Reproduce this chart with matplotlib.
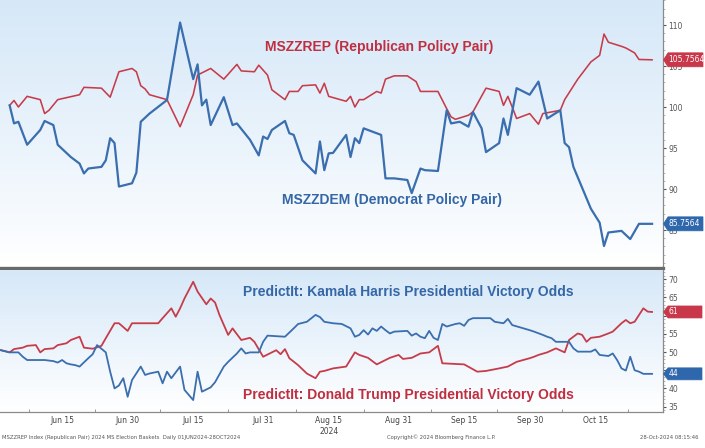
import matplotlib
matplotlib.use("Agg")
import matplotlib.pyplot as plt
import matplotlib.dates as mdates
import numpy as np
import pandas as pd
from matplotlib.patches import Polygon
from matplotlib.ticker import MultipleLocator, FixedLocator, FixedFormatter
from matplotlib.transforms import IdentityTransform, blended_transform_factory

# ---------------- data ----------------
rep_dates = ["06-03","06-04","06-05","06-07","06-10","06-11","06-12","06-14","06-19","06-20","06-24","06-26","06-28","07-01","07-02","07-03","07-04","07-05","07-09","07-12","07-15","07-16","07-19","07-22","07-25","07-26","07-29","07-30","08-01","08-02","08-05","08-06","08-08","08-09","08-12","08-13","08-14","08-15","08-19","08-20","08-21","08-22","08-23","08-26","08-27","08-28","08-30","09-02","09-04","09-05","09-09","09-11","09-12","09-13","09-16","09-17","09-20","09-23","09-24","09-25","09-26","09-27","09-30","10-02","10-03","10-07","10-08","10-11","10-14","10-16","10-17","10-18","10-21","10-22","10-23","10-24","10-25","10-28"]
rep_values = [100.2,100.8,100.0,101.3,100.9,99.2,99.6,100.9,101.5,102.4,102.3,101.2,104.3,104.7,104.3,102.6,102.2,101.5,100.9,97.6,101.5,103.9,104.7,103.4,105.2,104.4,104.3,105.1,103.9,102.1,100.9,101.9,101.9,102.6,102.7,101.7,102.9,101.3,100.7,101.3,100.0,100.9,100.9,101.9,101.7,103.4,103.8,103.8,103.1,101.9,101.9,99.8,98.8,98.5,99.0,99.4,102.3,101.9,100.2,101.3,100.0,98.6,99.2,97.9,99.2,99.6,100.9,103.4,105.5,106.3,108.9,107.9,107.4,107.2,106.9,106.6,105.8,105.7564]

dem_dates = ["06-03","06-04","06-05","06-07","06-10","06-11","06-13","06-14","06-17","06-19","06-20","06-21","06-24","06-25","06-26","06-27","06-28","07-01","07-02","07-03","07-05","07-09","07-12","07-15","07-16","07-17","07-18","07-19","07-22","07-24","07-25","07-28","07-30","07-31","08-01","08-02","08-05","08-06","08-07","08-09","08-12","08-13","08-14","08-15","08-16","08-19","08-20","08-21","08-22","08-23","08-27","08-28","08-30","09-02","09-03","09-05","09-06","09-09","09-11","09-12","09-14","09-16","09-17","09-19","09-20","09-23","09-24","09-25","09-27","09-30","10-02","10-04","10-07","10-08","10-09","10-10","10-14","10-16","10-17","10-18","10-21","10-23","10-25","10-28"]
dem_values = [100.2,98.0,98.2,95.4,97.2,98.3,97.8,95.4,93.9,93.1,91.9,92.5,92.7,93.5,96.2,95.6,90.3,90.7,92.0,98.2,99.2,100.85,110.3,103.4,105.2,100.2,100.9,97.8,101.2,97.8,98.0,96.0,94.1,96.4,96.1,97.2,98.3,96.8,96.6,93.5,91.9,95.8,92.3,94.35,94.4,96.6,93.9,96.2,95.6,97.4,96.6,91.3,91.3,91.1,89.5,92.5,92.3,92.2,99.6,98.0,98.2,97.6,99.4,97.4,94.5,95.6,98.6,96.6,102.3,101.5,103.1,98.6,99.6,95.6,95.1,92.7,87.6,85.9,83.05,84.7,84.9,83.9,85.7564,85.7564]

trump_dates = ["06-01","06-03","06-04","06-06","06-07","06-09","06-10","06-11","06-13","06-14","06-16","06-17","06-19","06-20","06-22","06-24","06-25","06-27","06-28","06-30","07-01","07-07","07-08","07-10","07-11","07-12","07-13","07-15","07-16","07-18","07-19","07-20","07-21","07-23","07-24","07-26","07-28","07-29","07-31","08-03","08-04","08-05","08-06","08-08","08-10","08-12","08-13","08-14","08-16","08-19","08-21","08-22","08-24","08-26","08-29","08-31","09-01","09-03","09-05","09-07","09-09","09-10","09-15","09-18","09-20","09-23","09-25","09-27","09-30","10-01","10-02","10-04","10-06","10-08","10-09","10-11","10-12","10-13","10-14","10-16","10-18","10-19","10-21","10-22","10-23","10-24","10-26","10-27","10-28"]
trump_values = [50.5,49.9,50.8,51.2,51.7,51.9,49.9,50.8,51.0,51.9,52.4,53.3,54.2,51.2,50.9,51.7,53.8,57.9,57.9,55.8,57.9,57.9,59.3,62.0,59.7,62.0,64.7,69.3,66.6,63.1,64.7,63.6,60.2,54.7,56.5,53.3,53.9,52.8,48.7,50.5,49.4,50.8,48.3,46.4,44.1,42.8,44.6,44.8,45.5,46.0,49.9,49.2,48.4,46.6,48.4,49.2,48.1,48.4,49.6,49.9,51.7,46.9,46.6,44.6,44.8,45.5,46.0,47.3,48.3,48.7,49.2,49.9,51.0,49.9,53.3,55.1,54.7,52.8,53.9,54.2,55.1,55.6,57.9,58.8,57.9,58.3,62.0,61.1,61.0]

harris_dates = ["06-01","06-03","06-05","06-06","06-07","06-11","06-13","06-14","06-15","06-16","06-17","06-18","06-19","06-21","06-22","06-23","06-25","06-26","06-27","06-28","06-29","06-30","07-01","07-03","07-04","07-05","07-07","07-08","07-09","07-10","07-12","07-13","07-15","07-16","07-17","07-19","07-20","07-22","07-23","07-25","07-26","07-27","07-28","07-30","07-31","08-01","08-05","08-07","08-08","08-10","08-12","08-13","08-14","08-16","08-18","08-20","08-21","08-22","08-23","08-24","08-25","08-26","08-27","08-28","08-29","08-30","09-02","09-03","09-04","09-05","09-06","09-07","09-08","09-09","09-10","09-11","09-13","09-14","09-15","09-16","09-17","09-21","09-22","09-24","09-25","09-26","09-28","09-30","10-01","10-03","10-04","10-05","10-06","10-09","10-10","10-11","10-14","10-15","10-16","10-18","10-19","10-20","10-21","10-22","10-23","10-24","10-25","10-26","10-28"]
harris_values = [50.5,49.9,49.9,48.7,47.8,47.8,47.5,47.1,47.8,46.9,46.6,46.4,46.0,48.3,49.4,51.9,49.9,44.6,40.0,40.8,42.8,37.7,42.3,46.0,43.7,44.1,44.6,41.4,44.6,42.8,46.0,39.6,36.8,44.6,39.1,40.3,41.7,46.0,47.3,49.6,51.0,49.6,49.9,49.9,52.8,54.5,54.2,56.5,57.7,58.3,60.2,59.6,58.3,57.9,57.7,56.5,54.2,54.7,56.0,54.8,56.5,55.8,57.0,56.0,55.1,55.6,55.8,54.5,55.1,54.2,53.8,55.8,53.9,53.3,57.7,57.0,57.7,57.9,57.2,58.8,59.3,59.3,58.3,57.9,59.1,57.4,56.7,56.0,55.6,54.7,54.2,53.8,52.8,52.8,51.0,50.1,50.1,50.7,49.2,48.9,49.6,47.8,45.5,44.9,48.7,45.0,44.6,44.0,44.0]

rep_last_label = "105.7564"
dem_last_label = "85.7564"
trump_last_label = "61"
harris_last_label = "44"

x_tick_dates = ["06-15","06-30","07-15","07-31","08-15","08-31","09-15","09-30","10-15"]
x_tick_labels = ["Jun 15","Jun 30","Jul 15","Jul 31","Aug 15","Aug 31","Sep 15","Sep 30","Oct 15"]
top_yticks = [85, 90, 95, 100, 105, 110]
top_ylabels = ["85", "90", "95", "100", "105", "110"]
bot_yticks = [35, 40, 45, 50, 55, 60, 65, 70]
bot_ylabels = ["35", "40", "", "50", "55", "", "65", "70"]  # 45 and 60 sit under the value tags


def to_dt(lst):
    return pd.to_datetime(["2024-" + d for d in lst])


RED = "#c63c4a"
BLUE = "#3a6eae"
RED_TXT = "#bf2f40"
BLUE_TXT = "#3566a6"
TICK_COL = "#555555"

W, H = 705, 448
fig = plt.figure(figsize=(W / 100, H / 100), dpi=100)
fig.patch.set_facecolor("white")

ax1 = fig.add_axes([0, 1 - 268 / H, 663 / W, 268 / H])
ax2 = fig.add_axes([0, 1 - 412 / H, 663 / W, 142 / H])


def gradient(ax, top_rgb, fade_to=0.0, power=1.0):
    n = 256
    t = np.linspace(0, 1, n)  # 0 bottom, 1 top
    s = np.clip((t - fade_to) / (1 - fade_to), 0, 1) ** power
    top = np.array(top_rgb) / 255.0
    arr = np.ones((n, 1, 3)) * (1 - s[:, None, None]) + top[None, None, :] * s[:, None, None]
    ax.imshow(arr, extent=[0, 1, 0, 1], transform=ax.transAxes, origin="lower",
              aspect="auto", zorder=0, interpolation="bilinear")


gradient(ax1, (214, 232, 248), fade_to=0.02, power=0.9)
gradient(ax2, (214, 232, 248), fade_to=0.0, power=1.0)

ax1.plot(to_dt(rep_dates), rep_values, color=RED, lw=1.15, zorder=3, solid_joinstyle="round")
ax1.plot(to_dt(dem_dates), dem_values, color=BLUE, lw=1.6, zorder=3, solid_joinstyle="round")
ax2.plot(to_dt(trump_dates), trump_values, color=RED, lw=1.3, zorder=3, solid_joinstyle="round")
ax2.plot(to_dt(harris_dates), harris_values, color=BLUE, lw=1.3, zorder=3, solid_joinstyle="round")

x0 = pd.Timestamp("2024-06-01") - pd.Timedelta(hours=5)
x1 = pd.Timestamp("2024-10-30") + pd.Timedelta(hours=12)
for ax in (ax1, ax2):
    ax.set_xlim(x0, x1)
    ax.set_facecolor("none")
    ax.spines["left"].set_visible(False)
    ax.spines["top"].set_visible(False)
    ax.spines["right"].set_color("#8a8a8a")
    ax.spines["right"].set_linewidth(0.9)
    ax.yaxis.tick_right()
    ax.tick_params(axis="y", which="major", direction="out", length=2.5, width=0.8,
                   colors=TICK_COL, labelsize=5.5, pad=1.5)
    ax.tick_params(axis="y", which="minor", direction="out", length=1.2, width=0.5,
                   colors="#999999")

ax1.set_ylim(80.37, 113.05)
ax2.set_ylim(33.52, 72.53)
ax1.yaxis.set_major_locator(FixedLocator(top_yticks))
ax1.yaxis.set_major_formatter(FixedFormatter(top_ylabels))
ax1.yaxis.set_minor_locator(MultipleLocator(1))
ax2.yaxis.set_major_locator(FixedLocator(bot_yticks))
ax2.yaxis.set_major_formatter(FixedFormatter(bot_ylabels))
ax2.yaxis.set_minor_locator(MultipleLocator(1))

ax1.spines["bottom"].set_color("#6a6a6a")
ax1.spines["bottom"].set_linewidth(2.4)
ax1.tick_params(axis="x", which="both", bottom=False, labelbottom=False)

ax2.spines["bottom"].set_color("#8a8a8a")
ax2.spines["bottom"].set_linewidth(0.9)
tick_dts = to_dt(x_tick_dates)
mid = mdates.date2num(tick_dts)
ax2.xaxis.set_major_locator(FixedLocator(mid))
ax2.set_xticklabels(x_tick_labels)
mids = [mid[0] - (mid[1] - mid[0]) / 2] + list((mid[:-1] + mid[1:]) / 2) + [mid[-1] + (mid[-1] - mid[-2]) / 2]
ax2.xaxis.set_minor_locator(FixedLocator(mids))
ax2.tick_params(axis="x", which="major", length=0, labelsize=5.5, colors="#444444", pad=3)
ax2.tick_params(axis="x", which="minor", direction="in", length=2.5, width=0.6, colors="#888888")

ax2.annotate("2024", xy=(mdates.date2num(pd.Timestamp("2024-08-15")), 0),
             xycoords=blended_transform_factory(ax2.transData, ax2.transAxes),
             xytext=(0, -15), textcoords="offset pixels", ha="center", va="top",
             fontsize=5.5, color="#444444")

# series titles
tfont = dict(family=["Liberation Sans", "DejaVu Sans"], fontweight="bold", fontsize=10)
fig.text(379 / W, 1 - 47 / H, "MSZZREP (Republican Policy Pair)", color=RED_TXT, ha="center", va="center", **tfont)
fig.text(392 / W, 1 - 200 / H, "MSZZDEM (Democrat Policy Pair)", color=BLUE_TXT, ha="center", va="center", **tfont)
fig.text(408 / W, 1 - 292 / H, "PredictIt: Kamala Harris Presidential Victory Odds", color=BLUE_TXT, ha="center", va="center", **tfont)
fig.text(408 / W, 1 - 395 / H, "PredictIt: Donald Trump Presidential Victory Odds", color=RED_TXT, ha="center", va="center", **tfont)

# last value tags
fig.canvas.draw()


def tag(ax, value, text, color, half_h, right):
    yd = ax.transData.transform((mdates.date2num(x1), value))[1]
    xd = ax.transAxes.transform((1, 0))[0]
    pts = [(xd + 0.5, yd), (xd + 5, yd + half_h), (right, yd + half_h),
           (right, yd - half_h), (xd + 5, yd - half_h)]
    poly = Polygon(pts, closed=True, transform=IdentityTransform(), facecolor=color,
                   edgecolor=color, lw=0.5, zorder=10)
    fig.add_artist(poly)
    fig.text((xd + 5.5) / W, yd / H, text, color="white", fontsize=5.5, ha="left",
             va="center", zorder=11)


tag(ax1, float(rep_values[-1]), rep_last_label, "#c8374a", 7, 703)
tag(ax1, float(dem_values[-1]), dem_last_label, "#2f67ad", 7, 703)
tag(ax2, float(trump_values[-1]), trump_last_label, "#c8374a", 6, 702)
tag(ax2, float(harris_values[-1]), harris_last_label, "#2f67ad", 6, 702)

# footer
ffont = dict(fontsize=3.8, color="#555555", va="center")
fig.text(2 / W, 1 - 437 / H, "MSZZREP Index (Republican Pair) 2024 MS Election Baskets  Daily 01JUN2024-28OCT2024", ha="left", **ffont)
fig.text(441 / W, 1 - 437 / H, "Copyright\u00a9 2024 Bloomberg Finance L.P.", ha="center", **ffont)
fig.text(698 / W, 1 - 437 / H, "28-Oct-2024 08:15:46", ha="right", **ffont)

fig.savefig("out.png", dpi=100)
